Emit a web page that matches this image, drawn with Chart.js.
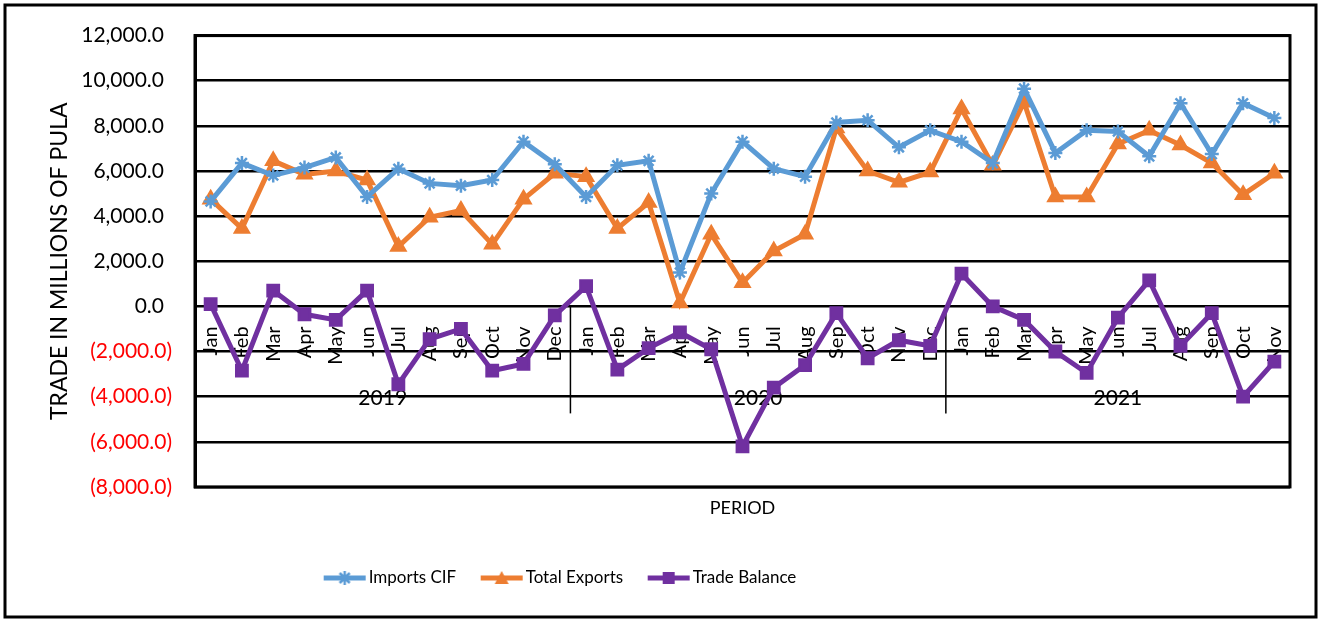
<!DOCTYPE html>
<html>
<head>
<meta charset="utf-8">
<script src="https://cdn.jsdelivr.net/npm/chart.js@4.4.1/dist/chart.umd.min.js"></script>
<style>
    html, body { margin: 0; padding: 0; background: #fff; }
    canvas { display: block; }
</style>
</head>
<body>
<canvas id="graphique-commerce" width="1319" height="619"></canvas>
<script>
// Mois de la période (2019 Jan -> 2021 Nov)
const mois = [
    "Jan", "Feb", "Mar", "Apr", "May", "Jun", "Jul", "Aug", "Sep", "Oct", "Nov", "Dec",
    "Jan", "Feb", "Mar", "Apr", "May", "Jun", "Jul", "Aug", "Sep", "Oct", "Nov", "Dec",
    "Jan", "Feb", "Mar", "Apr", "May", "Jun", "Jul", "Aug", "Sep", "Oct", "Nov",
];
const annees = ["2019", "2020", "2021"];
const moisParAnnee = [12, 12, 11];

// valeurs en millions de pula
const importsCIF = [
    4650, 6350, 5800, 6150, 6600, 4850, 6100, 5450, 5350, 5600, 7300, 6300,
    4850, 6250, 6450, 1500, 5000, 7300, 6100, 5750, 8150, 8250, 7050, 7800,
    7300, 6350, 9650, 6800, 7800, 7750, 6650, 9000, 6750, 9000, 8350,
];
const totalExports = [
    4750, 3450, 6450, 5850, 6000, 5600, 2650, 3950, 4250, 2750, 4750, 5900,
    5750, 3450, 4600, 150, 3200, 1050, 2450, 3200, 7900, 6000, 5500, 5950,
    8750, 6250, 9050, 4850, 4850, 7200, 7800, 7150, 6350, 4950, 5900,
];
const tradeBalance = [
    100, -2850, 700, -350, -600, 700, -3450, -1450, -1000, -2850, -2550, -400,
    900, -2800, -1850, -1150, -1900, -6200, -3600, -2600, -300, -2300, -1500, -1750,
    1450, 0, -600, -2000, -2950, -500, 1150, -1750, -300, -4000, -2450,
];
const graduationsY = [-8000, 12000, 2000]; // min, max, pas

const bleu = "#5B9BD5";
const orange = "#ED7D31";
const violet = "#7030A0";
const police = "Lato";

// format Excel : 1,234.0 et (1,234.0) pour les négatifs
function formatPula(v) {
    const s = Math.abs(v).toLocaleString("en-US", {
        minimumFractionDigits: 1,
        maximumFractionDigits: 1,
    });
    return v < 0 ? "(" + s + ")" : s + " \u2009";
}

// petites icônes de légende : trait + marqueur
function iconeLegende(couleur, forme) {
    const c = document.createElement("canvas");
    c.width = 44;
    c.height = 18;
    const g = c.getContext("2d");
    g.strokeStyle = couleur;
    g.fillStyle = couleur;
    g.lineWidth = 5;
    g.beginPath();
    g.moveTo(1, 9);
    g.lineTo(43, 9);
    g.stroke();
    g.lineWidth = 2.5;
    if (forme === "star") {
        g.beginPath();
        g.moveTo(22, 2); g.lineTo(22, 16);
        g.moveTo(17, 4); g.lineTo(27, 14);
        g.moveTo(27, 4); g.lineTo(17, 14);
        g.stroke();
    } else if (forme === "triangle") {
        g.beginPath();
        g.moveTo(22, 2); g.lineTo(29, 15); g.lineTo(15, 15);
        g.closePath();
        g.fill();
    } else {
        g.fillRect(16, 3, 12, 12);
    }
    return c;
}
const icones = [
    iconeLegende(bleu, "star"),
    iconeLegende(orange, "triangle"),
    iconeLegende(violet, "rect"),
];

// cadre extérieur + bordure de la zone de tracé
const cadre = {
    id: "cadre",
    beforeDraw(chart) {
        const { ctx, width, height } = chart;
        ctx.save();
        ctx.fillStyle = "#fff";
        ctx.fillRect(0, 0, width, height);
        ctx.strokeStyle = "#000";
        ctx.lineWidth = 3;
        ctx.strokeRect(5, 5, width - 8, height - 7);
        ctx.restore();
    },
    beforeDatasetsDraw(chart) {
        const { ctx, chartArea: a } = chart;
        ctx.save();
        ctx.strokeStyle = "#000";
        ctx.lineWidth = 3;
        ctx.strokeRect(a.left, a.top, a.right - a.left, a.bottom - a.top);
        ctx.restore();
    },
};

// deuxième niveau de l'axe : années et séparateurs
const niveauAnnees = {
    id: "niveauAnnees",
    beforeDatasetsDraw(chart) {
        const { ctx } = chart;
        const x = chart.scales.x;
        const y0 = chart.scales.y.getPixelForValue(0);
        ctx.save();
        ctx.font = "21px " + police;
        ctx.fillStyle = "#000";
        ctx.strokeStyle = "#000";
        ctx.lineWidth = 1.5;
        ctx.textAlign = "center";
        ctx.textBaseline = "middle";
        let debut = 0;
        for (let i = 0; i < annees.length; i++) {
            const fin = debut + moisParAnnee[i] - 1;
            const gauche = debut === 0 ? x.left
                : (x.getPixelForTick(debut - 1) + x.getPixelForTick(debut)) / 2;
            const droite = fin === mois.length - 1 ? x.right
                : (x.getPixelForTick(fin) + x.getPixelForTick(fin + 1)) / 2;
            ctx.fillText(annees[i], (gauche + droite) / 2, y0 + 92);
            if (debut > 0) {
                ctx.beginPath();
                ctx.moveTo(gauche, y0);
                ctx.lineTo(gauche, y0 + 107);
                ctx.stroke();
            }
            debut = fin + 1;
        }
        ctx.restore();
    },
};

// la légende Excel n'est pas centrée sur la largeur
const decalageLegende = {
    id: "decalageLegende",
    afterLayout(chart) {
        const l = chart.legend;
        const d = 562.75 - (l.left + l.right) / 2;
        l.left += d;
        l.right += d;
    },
};

function serie(label, data, couleur, forme, rayon) {
    return {
        label: label,
        data: data,
        borderColor: couleur,
        backgroundColor: couleur,
        borderWidth: 5,
        pointStyle: forme,
        pointRadius: rayon,
        pointHoverRadius: rayon,
        pointBorderWidth: 2.5,
        pointBackgroundColor: couleur,
        pointBorderColor: couleur,
        tension: 0,
    };
}

const config = {
    type: "line",
    data: {
        labels: mois,
        datasets: [
            serie("Imports CIF", importsCIF, bleu, "star", 7),
            serie("Total Exports", totalExports, orange, "triangle", 8),
            serie("Trade Balance", tradeBalance, violet, "rect", 8),
        ],
    },
    options: {
        responsive: false,
        animation: false,
        layout: { padding: { top: 35, right: 29, left: 35, bottom: 22.5 } },
        scales: {
            x: {
                position: { y: 0 },
                offset: true,
                grid: { display: false },
                border: { display: false },
                ticks: {
                    autoSkip: false,
                    minRotation: 90,
                    maxRotation: 90,
                    padding: 12,
                    color: "#000",
                    font: { family: police, size: 20 },
                },
            },
            y: {
                min: graduationsY[0],
                max: graduationsY[1],
                afterFit: scale => { scale.width = 160; },
                ticks: {
                    stepSize: graduationsY[2],
                    padding: 23,
                    color: c => (c.tick && c.tick.value < 0 ? "#FF0000" : "#000"),
                    font: { family: police, size: 21 },
                    callback: v => formatPula(v),
                },
                grid: { color: "#000", lineWidth: 2.5, drawTicks: false },
                border: { color: "#000", width: 3 },
                title: {
                    display: true,
                    text: "TRADE IN MILLIONS OF PULA",
                    color: "#000",
                    font: { family: police, size: 23 },
                    padding: 11,
                },
            },
        },
        plugins: {
            title: {
                display: true,
                text: "PERIOD",
                position: "bottom",
                fullSize: false,
                weight: 500,
                color: "#000",
                font: { family: police, size: 18, weight: "normal" },
                padding: { top: 10, bottom: 21 },
            },
            legend: {
                position: "bottom",
                labels: {
                    usePointStyle: true,
                    pointStyleWidth: 31,
                    padding: 30,
                    color: "#000",
                    font: { family: police, size: 17 },
                    generateLabels: chart =>
                        Chart.defaults.plugins.legend.labels
                            .generateLabels(chart)
                            .map((item, i) => ({ ...item, pointStyle: icones[i] })),
                },
            },
            tooltip: { enabled: false },
        },
    },
    plugins: [cadre, niveauAnnees, decalageLegende],
};

new Chart(document.querySelector("#graphique-commerce"), config);
</script>
</body>
</html>
